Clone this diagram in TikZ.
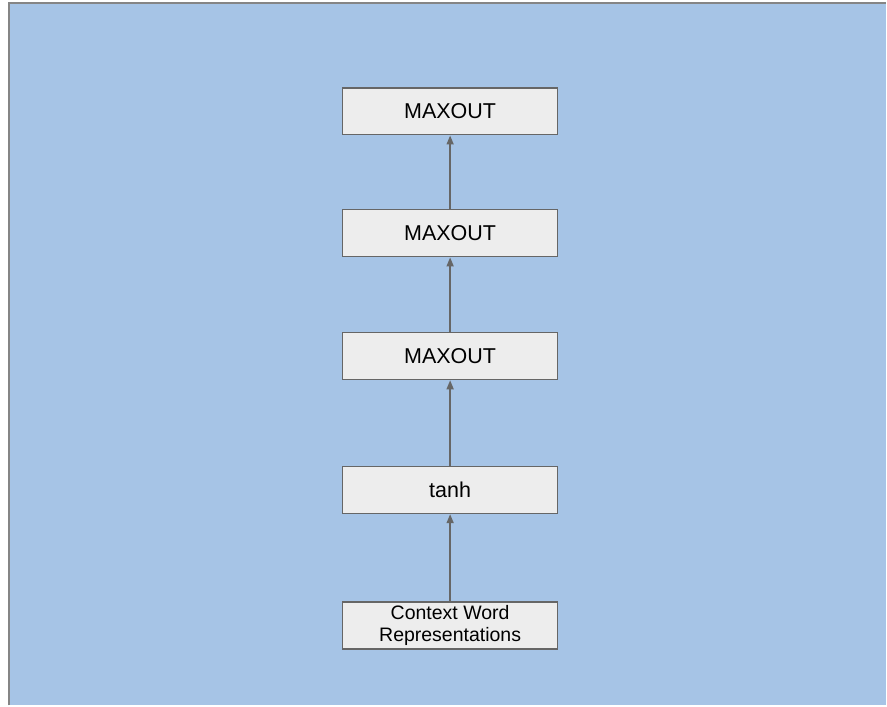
\documentclass[tikz,border=0pt]{standalone}
\usepackage{fontspec}
\setmainfont{Liberation Sans}
\usetikzlibrary{arrows.meta}
\definecolor{canvas}{HTML}{A6C4E6}
\definecolor{boxfill}{HTML}{EDEDED}
\definecolor{edge}{HTML}{666666}
\begin{document}
\begin{tikzpicture}[x=1pt,y=-1pt,
  layer/.style={draw=edge,line width=1.2pt,fill=boxfill,minimum width=215pt,
    minimum height=47pt,inner sep=0pt,font=\fontsize{21.5}{24}\selectfont},
  link/.style={draw=edge,line width=1.5pt,-{Triangle[length=9pt,width=7pt]}}]
  % page and panel
  \fill[white] (0,0) rectangle (887,706);
  \fill[canvas] (9,3) rectangle (887,706);
  \draw[edge!80,line width=1.5pt] (9,706) -- (9,3) -- (887,3);
  % layers, bottom to top
  \node[layer,align=center,font=\fontsize{19.5}{22}\selectfont] (ctx) at (450.5,626) {Context Word\\Representations};
  \node[layer] (tanh) at (450.5,490.5) {tanh};
  \node[layer] (m1) at (450.5,356.5) {MAXOUT};
  \node[layer] (m2) at (450.5,233.5) {MAXOUT};
  \node[layer] (m3) at (450.5,111.5) {MAXOUT};
  % connections
  \draw[link] (ctx) -- (tanh);
  \draw[link] (tanh) -- (m1);
  \draw[link] (m1) -- (m2);
  \draw[link] (m2) -- (m3);
\end{tikzpicture}
\end{document}
